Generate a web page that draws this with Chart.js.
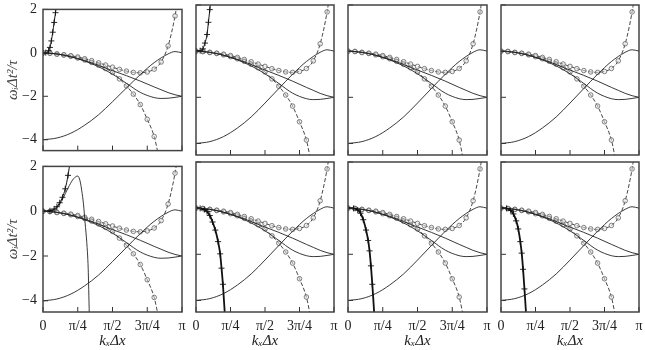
<!DOCTYPE html>
<html>
<head>
<meta charset="utf-8">
<script src="https://cdn.jsdelivr.net/npm/chart.js@4"></script>
<style>
html, body { margin: 0; padding: 0; background: #fff; overflow: hidden; }
#wrap { position: relative; width: 645px; height: 350px; }
canvas { position: absolute; }
</style>
</head>
<body>
<div id="wrap"></div>
<script>
// tick values and labels
var xTicks = [0, 0.25, 0.5, 0.75, 1];
var xTickLabels = ['0', 'π/4', 'π/2', '3π/4', 'π'];
var yTicks = [-4, -2, 0, 2];

// curves common to all panels (x in units of pi)
var kA = [0, 0.1, 0.2, 0.3, 0.4, 0.5, 0.6, 0.7, 0.8, 0.9, 0.95, 1];
var wA = [-4, -3.92, -3.7, -3.33, -2.85, -2.25, -1.62, -1.0, -0.45, -0.05, 0.06, 0];
var kBC = [0, 0.1, 0.2, 0.3, 0.4, 0.5, 0.6, 0.7, 0.8, 0.85, 0.9, 0.95, 1];
var wB = [0, -0.05, -0.18, -0.38, -0.64, -0.98, -1.4, -1.82, -2.06, -2.1, -2.09, -2.05, -2.0];
var wC = [0, -0.05, -0.18, -0.36, -0.58, -0.82, -1.05, -1.3, -1.57, -1.7, -1.83, -1.93, -2.0];
var kD = [0, 0.05, 0.1, 0.15, 0.2, 0.25, 0.3, 0.35, 0.4, 0.45, 0.5, 0.55, 0.6, 0.65, 0.7, 0.75, 0.8, 0.85, 0.9, 0.95, 0.975];
var wD = [0, -0.02, -0.06, -0.09, -0.13, -0.19, -0.27, -0.36, -0.46, -0.56, -0.66, -0.76, -0.84, -0.9, -0.92, -0.88, -0.75, -0.42, 0.32, 1.7, 2.7];
var kE = [0, 0.05, 0.1, 0.15, 0.2, 0.25, 0.3, 0.35, 0.4, 0.45, 0.5, 0.55, 0.6, 0.65, 0.7, 0.75, 0.8, 0.83];
var wE = [0, -0.01, -0.05, -0.1, -0.16, -0.24, -0.33, -0.44, -0.57, -0.72, -0.9, -1.2, -1.52, -1.9, -2.38, -3.06, -3.85, -4.7];

// panel specific curves
var kP1 = [0, 0.02, 0.04, 0.05, 0.06, 0.07, 0.08, 0.09, 0.1];
var wP1 = [0, 0.01, 0.1, 0.25, 0.55, 0.95, 1.4, 1.85, 2.3];
var kP2 = [0, 0.03, 0.05, 0.065, 0.08, 0.09, 0.1, 0.11];
var wP2 = [0, 0.02, 0.1, 0.35, 0.72, 1.25, 1.8, 2.4];
var kP3 = [0, 0.05, 0.08, 0.1, 0.12, 0.14, 0.16, 0.18, 0.195];
var wP3 = [0, 0.02, 0.1, 0.2, 0.38, 0.62, 1.0, 1.6, 2.2];
var kH = [0, 0.05, 0.08, 0.1, 0.13, 0.16, 0.19, 0.22, 0.25, 0.267, 0.279, 0.291, 0.303, 0.315, 0.325, 0.333];
var wH = [0, 0, 0.05, 0.15, 0.42, 0.78, 1.15, 1.45, 1.57, 1.34, 0.91, 0.33, -0.53, -1.4, -2.55, -4.6];
var kQ2 = [0, 0.03, 0.06, 0.08, 0.1, 0.12, 0.14, 0.16, 0.175, 0.185, 0.195, 0.21];
var wQ2 = [0, -0.01, -0.06, -0.15, -0.32, -0.6, -0.95, -1.45, -1.98, -2.6, -3.3, -4.7];
var kQ3 = [0, 0.04, 0.07, 0.09, 0.11, 0.13, 0.145, 0.155, 0.165, 0.175, 0.19];
var wQ3 = [0, -0.01, -0.08, -0.22, -0.5, -0.95, -1.4, -1.85, -2.5, -3.3, -4.7];
var kQ4 = [0, 0.04, 0.07, 0.09, 0.11, 0.125, 0.14, 0.15, 0.16, 0.17, 0.183];
var wQ4 = [0, -0.01, -0.1, -0.25, -0.55, -0.9, -1.45, -1.95, -2.65, -3.5, -4.7];

// plot area edges on the page
var colL = [43, 196, 348, 501];
var colR = [182, 334, 487, 639];
var rowT = [5, 162];
var rowB = [155, 312];

var serif = 'Liberation Serif, DejaVu Serif, serif';

function pts(k, w) {
    return k.map(function (v, i) { return { x: v, y: w[i] }; });
}
function solid(k, w) {
    return { data: pts(k, w), borderColor: '#222', borderWidth: 0.9, pointRadius: 0, cubicInterpolationMode: 'monotone' };
}
function circles(k, w) {
    return {
        data: pts(k, w), borderColor: '#333', borderWidth: 0.9, borderDash: [4, 2],
        pointRadius: 2.3, pointBorderColor: '#666', pointBackgroundColor: 'rgba(225,225,225,0.5)', pointBorderWidth: 0.8,
        cubicInterpolationMode: 'monotone'
    };
}
function plus(k, w, bw) {
    return {
        data: pts(k, w), borderColor: '#111', borderWidth: bw || 1, pointStyle: 'cross', pointRadius: 3,
        pointBorderColor: '#111', pointBorderWidth: 0.9, cubicInterpolationMode: 'monotone'
    };
}
function common() {
    return [solid(kA, wA), solid(kBC, wB), solid(kBC, wC), circles(kD, wD), circles(kE, wE)];
}

var panels = [
    { r: 0, c: 0, extra: [plus(kP1, wP1)] },
    { r: 0, c: 1, extra: [plus(kP2, wP2)] },
    { r: 0, c: 2, extra: [] },
    { r: 0, c: 3, extra: [] },
    { r: 1, c: 0, extra: [plus(kP3, wP3), solid(kH, wH)] },
    { r: 1, c: 1, extra: [plus(kQ2, wQ2, 1.8)] },
    { r: 1, c: 2, extra: [plus(kQ3, wQ3, 1.8)] },
    { r: 1, c: 3, extra: [plus(kQ4, wQ4, 1.8)] }
];

// inward tick marks and frame
var frameTicks = {
    id: 'frameTicks',
    afterDatasetsDraw: function (chart) {
        var ctx = chart.ctx, a = chart.chartArea, xs = chart.scales.x, ys = chart.scales.y;
        ctx.save();
        ctx.strokeStyle = '#333';
        ctx.lineWidth = 1;
        ctx.beginPath();
        xTicks.forEach(function (v) {
            var px = xs.getPixelForValue(v);
            ctx.moveTo(px, a.bottom); ctx.lineTo(px, a.bottom - 5);
        });
        yTicks.forEach(function (v) {
            var py = ys.getPixelForValue(v);
            ctx.moveTo(a.left, py); ctx.lineTo(a.left + 5, py);
        });
        ctx.stroke();
        ctx.lineWidth = 1.5;
        ctx.strokeStyle = '#444';
        ctx.strokeRect(a.left, a.top, a.right - a.left, a.bottom - a.top);
        ctx.restore();
    }
};

var pad = 10;
var wrap = document.getElementById('wrap');
panels.forEach(function (p) {
    var yW = p.c === 0 ? 43 : 0;
    var xH = p.r === 1 ? 38 : 0;
    var cv = document.createElement('canvas');
    cv.width = (colR[p.c] - colL[p.c]) + yW + 2 * pad;
    cv.height = (rowB[p.r] - rowT[p.r]) + xH + 2 * pad;
    cv.style.left = (colL[p.c] - pad - yW) + 'px';
    cv.style.top = (rowT[p.r] - pad) + 'px';
    wrap.appendChild(cv);
    new Chart(cv, {
        type: 'line',
        data: { datasets: p.extra.concat(common()) },
        options: {
            responsive: false, animation: false, devicePixelRatio: 1, events: [],
            layout: { padding: pad },
            plugins: { legend: { display: false }, tooltip: { enabled: false } },
            scales: {
                x: {
                    type: 'linear', min: 0, max: 1,
                    afterBuildTicks: function (s) { s.ticks = xTicks.map(function (v) { return { value: v }; }); },
                    afterFit: function (s) { s.height = xH; },
                    grid: { display: false, drawTicks: false }, border: { display: false },
                    ticks: {
                        display: p.r === 1, autoSkip: false, maxRotation: 0, padding: 6, color: '#222',
                        font: { family: serif, size: 14 },
                        callback: function (v, i) { return xTickLabels[i]; }
                    },
                    title: {
                        display: p.r === 1, text: 'kₓΔx', color: '#222',
                        font: { family: serif, size: 15, style: 'italic' }, padding: { top: 0, bottom: 0 }
                    }
                },
                y: {
                    type: 'linear', min: -4.5, max: 2,
                    afterBuildTicks: function (s) { s.ticks = yTicks.map(function (v) { return { value: v }; }); },
                    afterFit: function (s) { s.width = yW; },
                    grid: { display: false, drawTicks: false }, border: { display: false },
                    ticks: {
                        display: p.c === 0, padding: 6, color: '#222',
                        font: { family: serif, size: 14 },
                        callback: function (v) { return v < 0 ? '\u2212' + (-v) : String(v); }
                    },
                    title: {
                        display: p.c === 0, text: 'ωᵢΔt²/τ', color: '#444',
                        font: { family: serif, size: 15, style: 'italic' }, padding: { top: 4, bottom: 0 }
                    }
                }
            }
        },
        plugins: [frameTicks]
    });
});
</script>
</body>
</html>
